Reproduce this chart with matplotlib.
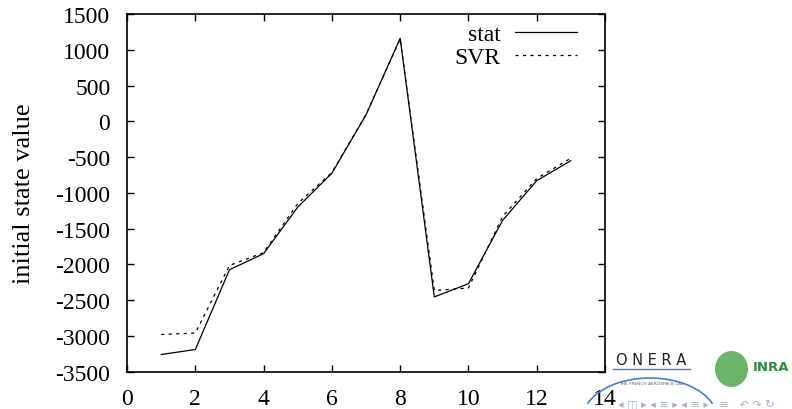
import numpy as np
import matplotlib.pyplot as plt
from matplotlib.patches import Ellipse, Arc

# ── Data ───────────────────────────────────────────────────
x = [1, 2, 3, 4, 5, 6, 7, 8, 9, 10, 11, 12, 13]
stat = [-3260, -3190, -2075, -1850, -1200, -725, 90, 1160,
        -2455, -2270, -1385, -830, -550]
svr = [-2980, -2960, -2015, -1835, -1150, -715, 95, 1150,
       -2365, -2330, -1330, -800, -515]

xticks = [0, 2, 4, 6, 8, 10, 12, 14]
yticks = [-3500, -3000, -2500, -2000, -1500, -1000, -500, 0, 500, 1000, 1500]

plt.rcParams["font.family"] = ["Liberation Serif", "DejaVu Serif"]
plt.rcParams["axes.unicode_minus"] = False

fig = plt.figure(figsize=(7.92, 4.10), dpi=100)
ax = fig.add_axes([0.1604, 0.091, 0.6035, 0.8724])

ax.plot(x, stat, color="black", lw=0.9, label="stat")
ax.plot(x, svr, color="black", lw=0.9, ls=(0, (2.5, 3.5)), label="SVR")

ax.set_xlim(0, 14)
ax.set_ylim(-3500, 1500)
ax.set_xticks(xticks)
ax.set_yticks(yticks)
ax.tick_params(direction="in", length=5, width=1.0, labelsize=17,
               top=True, right=True, pad=12)
ax.tick_params(axis="x", pad=12)
for s in ax.spines.values():
    s.set_linewidth(1.2)

ax.set_ylabel("initial state value", fontsize=19, labelpad=15)

ax.legend(loc="upper right", bbox_to_anchor=(0.941, 0.973), frameon=False,
          fontsize=17, markerfirst=False, handlelength=2.62,
          handletextpad=0.6, labelspacing=0.05, borderaxespad=0,
          borderpad=0)

# ── Logos (approximate) ────────────────────────────────────
fig.text(651 / 792, 1 - 361 / 410, "O N E R A", fontsize=10.5, color="#222222",
         family="DejaVu Sans", ha="center", va="center")
fig.add_artist(plt.Line2D([613 / 792, 690 / 792], [1 - 370 / 410, 1 - 370 / 410],
                          color="#4a7fd0", lw=1.0, transform=fig.transFigure))
fig.text(651 / 792, 1 - 384 / 410, "THE FRENCH AEROSPACE LAB", fontsize=3.2,
         color="#666666", family="DejaVu Sans", ha="center", va="center")
fig.add_artist(Arc((650 / 792, 1 - 420 / 410), 0.17, 0.2, theta1=25, theta2=155,
                   color="#4a7fd0", lw=1.2, transform=fig.transFigure))
fig.add_artist(Ellipse((731.5, 410 - 370), 33, 36, transform=None,
                       facecolor="#6cb46c", edgecolor="none"))
fig.text(753 / 792, 1 - 368 / 410, "INRA", fontsize=9.5, color="#2e8b3e",
         weight="bold", family="DejaVu Sans", ha="left", va="center")

# beamer nav symbols
fig.text(618 / 792, 0.0, "◂ ◫ ▸ ◂ ≡ ▸ ◂ ≡ ▸   ≡   ↶ ↷ ↻",
         fontsize=8, color="#a6b0d6", family="DejaVu Sans",
         ha="left", va="bottom")

plt.savefig("out.png", dpi=100)
